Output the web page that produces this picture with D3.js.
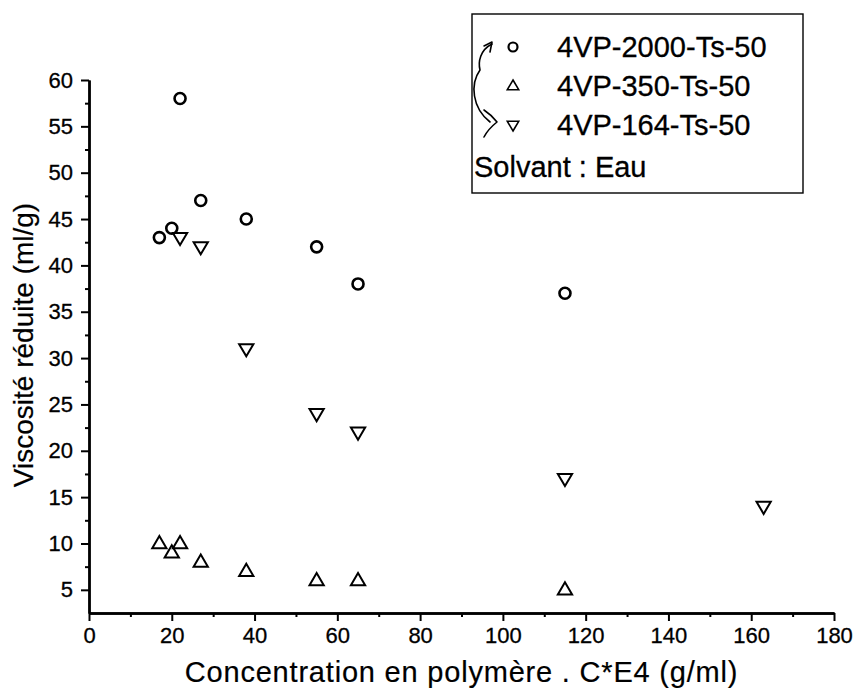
<!DOCTYPE html>
<html>
<head>
<meta charset="utf-8">
<script src="https://cdn.jsdelivr.net/npm/d3@7"></script>
<style>
  html, body { margin: 0; padding: 0; background: #fff; }
  svg { display: block; }
  svg text { font-family: "Liberation Sans", Arial, sans-serif; fill: #000; }
</style>
</head>
<body>
<svg id="chart" width="860" height="699"></svg>
<script>
// Concentration (C*E4, g/ml) and reduced viscosity (ml/g) for each polymer
const conc2000 = [17, 20, 22, 27, 38, 55, 65, 115];
const visc2000 = [43, 44, 58, 47, 45, 42, 38, 37];

const conc350 = [17, 20, 22, 27, 38, 55, 65, 115];
const visc350 = [10, 9, 10, 8, 7, 6, 6, 5];

const conc164 = [22, 27, 38, 55, 65, 115, 163];
const visc164 = [43, 42, 31, 24, 22, 17, 14];

const seriesNames = ["4VP-2000-Ts-50", "4VP-350-Ts-50", "4VP-164-Ts-50"];
const solventNote = "Solvant : Eau";

const xTicks = [0, 20, 40, 60, 80, 100, 120, 140, 160, 180];
const xMinor = [10, 30, 50, 70, 90, 110, 130, 150, 170];
const yTicks = [5, 10, 15, 20, 25, 30, 35, 40, 45, 50, 55, 60];
const yMinor = [7.5, 12.5, 17.5, 22.5, 27.5, 32.5, 37.5, 42.5, 47.5, 52.5, 57.5];

const xTitle = "Concentration en polymère . C*E4 (g/ml)";
const yTitle = "Viscosité réduite (ml/g)";

const svg = d3.select("#chart");
const plotLeft = 89, plotRight = 834, plotTop = 80, plotBottom = 613;

const x = d3.scaleLinear().domain([0, 180]).range([plotLeft, plotRight]);
const y = d3.scaleLinear().domain([2.5, 60]).range([plotBottom, plotTop]);

// Axes: major ticks labelled, minor ticks unlabelled
const gx = svg.append("g").attr("transform", `translate(0,${plotBottom})`);
gx.call(d3.axisBottom(x).tickValues(xTicks).tickSize(8).tickPadding(2).tickSizeOuter(0));
gx.append("g").call(d3.axisBottom(x).tickValues(xMinor).tickSize(4).tickFormat("").tickSizeOuter(0));

const gy = svg.append("g").attr("transform", `translate(${plotLeft},0)`);
gy.call(d3.axisLeft(y).tickValues(yTicks).tickSize(8).tickPadding(8).tickSizeOuter(0));
gy.append("g").call(d3.axisLeft(y).tickValues(yMinor).tickSize(4).tickFormat("").tickSizeOuter(0));

gx.attr("font-family", null);
gy.attr("font-family", null);
svg.selectAll(".domain").attr("stroke", "#000").attr("stroke-width", 2.4);
svg.selectAll(".tick line").attr("stroke", "#000").attr("stroke-width", 2);
svg.selectAll(".tick text")
  .attr("fill", "#000")
  .style("font-size", "22px")
  .style("stroke", "#000").style("stroke-width", 0.3);
gx.selectAll(".tick text").attr("dy", "0.9em");

// Axis titles
svg.append("text")
  .attr("x", (plotLeft + plotRight) / 2).attr("y", 682)
  .attr("text-anchor", "middle")
  .style("font-size", "29px")
  .style("letter-spacing", "0.8px")
  .style("stroke", "#000").style("stroke-width", 0.2)
  .text(xTitle);

svg.append("text")
  .attr("transform", `translate(33,${345}) rotate(-90)`)
  .attr("text-anchor", "middle")
  .style("font-size", "28px")
  .style("stroke", "#000").style("stroke-width", 0.2)
  .text(yTitle);

// Marker shapes
const triUp = s => `M0,${-s}L${s * 0.95},${s * 0.62}L${-s * 0.95},${s * 0.62}Z`;
const triDown = s => `M0,${s}L${s * 0.95},${-s * 0.62}L${-s * 0.95},${-s * 0.62}Z`;

const plot = svg.append("g");

plot.selectAll("circle.s2000")
  .data(d3.zip(conc2000, visc2000))
  .join("circle")
  .attr("class", "s2000")
  .attr("cx", d => x(d[0])).attr("cy", d => y(d[1]))
  .attr("r", 5.5)
  .attr("fill", "none").attr("stroke", "#000").attr("stroke-width", 2.6);

plot.selectAll("path.s350")
  .data(d3.zip(conc350, visc350))
  .join("path")
  .attr("class", "s350")
  .attr("transform", d => `translate(${x(d[0])},${y(d[1])})`)
  .attr("d", triUp(7.5))
  .attr("fill", "none").attr("stroke", "#000").attr("stroke-width", 2);

plot.selectAll("path.s164")
  .data(d3.zip(conc164, visc164))
  .join("path")
  .attr("class", "s164")
  .attr("transform", d => `translate(${x(d[0])},${y(d[1])})`)
  .attr("d", triDown(7.5))
  .attr("fill", "none").attr("stroke", "#000").attr("stroke-width", 2);

// Legend box
const lg = svg.append("g");
lg.append("rect")
  .attr("x", 472).attr("y", 14).attr("width", 331).attr("height", 179)
  .attr("fill", "#fff").attr("stroke", "#000").attr("stroke-width", 1.4);

const rowY = [47, 86, 125];
const symX = 513;
lg.append("circle").attr("cx", symX).attr("cy", rowY[0]).attr("r", 4.5)
  .attr("fill", "none").attr("stroke", "#000").attr("stroke-width", 2.2);
lg.append("path").attr("transform", `translate(${symX},${rowY[1]})`).attr("d", triUp(6))
  .attr("fill", "none").attr("stroke", "#000").attr("stroke-width", 1.6);
lg.append("path").attr("transform", `translate(${symX},${rowY[2]})`).attr("d", triDown(6))
  .attr("fill", "none").attr("stroke", "#000").attr("stroke-width", 1.6);

lg.selectAll("text.name")
  .data(seriesNames)
  .join("text")
  .attr("class", "name")
  .attr("x", 557).attr("y", (d, i) => rowY[i])
  .attr("dy", "0.36em")
  .style("font-size", "29px")
  .style("stroke", "#000").style("stroke-width", 0.3)
  .text(d => d);

lg.append("text")
  .attr("x", 474).attr("y", 167).attr("dy", "0.36em")
  .style("font-size", "29px")
  .style("stroke", "#000").style("stroke-width", 0.3)
  .text(solventNote);

// Hand-drawn arrow linking the first and third legend entries
const pen = { fill: "none", stroke: "#000", "stroke-width": 1.6, "stroke-linecap": "round", "stroke-linejoin": "round" };
const stroke = d => {
  const p = lg.append("path").attr("d", d);
  Object.entries(pen).forEach(([k, v]) => p.attr(k, v));
};
stroke("M492,44 C480,50 478,62 480,70 C470,84 472,108 490,122");
stroke("M484,46 L492,42 L490,52");
stroke("M484,110 C490,114 494,118 497,122 C492,126 487,131 484,137");
</script>
</body>
</html>
